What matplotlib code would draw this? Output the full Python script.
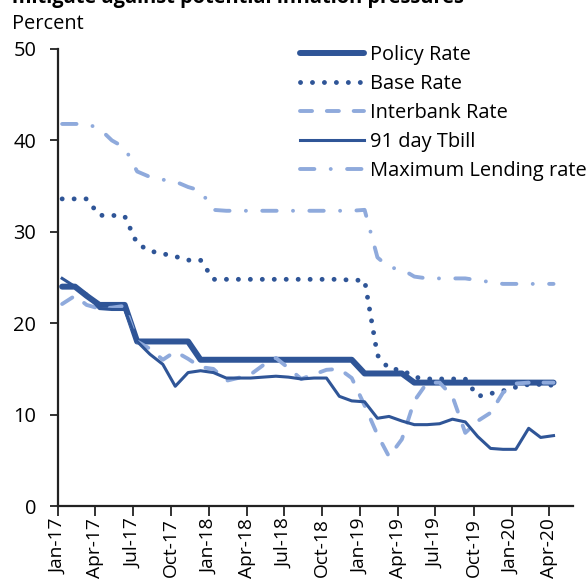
"""
Policy, base, interbank, T-bill and maximum lending rates, Jan-17 to Apr-20
"""
import matplotlib
matplotlib.use("Agg")
import matplotlib.pyplot as plt
import matplotlib.dates as mdates
import pandas as pd

plt.rcParams['font.family'] = ['Open Sans', 'DejaVu Sans']

# Monthly observations, Jan-17 .. Apr-20
months = pd.date_range("2017-01-01", periods=40, freq="MS")

policy_rate = [24.0, 24.0, 23.0, 22.0, 22.0, 22.0, 18.0, 18.0, 18.0, 18.0, 18.0, 16.0,
               16.0, 16.0, 16.0, 16.0, 16.0, 16.0, 16.0, 16.0, 16.0, 16.0, 16.0, 16.0,
               14.5, 14.5, 14.5, 14.5, 13.5, 13.5, 13.5, 13.5, 13.5, 13.5, 13.5, 13.5,
               13.5, 13.5, 13.5, 13.5]
base_rate = [33.6, 33.6, 33.6, 31.8, 31.8, 31.7, 28.7, 27.9, 27.6, 27.3, 26.9, 26.9,
             24.8, 24.8, 24.8, 24.8, 24.8, 24.8, 24.8, 24.8, 24.8, 24.8, 24.8, 24.7,
             24.7, 16.5, 15.0, 14.9, 14.1, 13.9, 13.9, 13.9, 13.9, 12.0, 12.3, 12.6,
             13.0, 13.3, 13.3, 13.2]
interbank_rate = [22.1, 23.0, 22.0, 21.6, 21.7, 21.9, 18.0, 17.2, 16.0, 16.9, 16.1, 15.2,
                  15.0, 13.7, 14.0, 14.4, 15.4, 16.2, 15.1, 13.9, 14.4, 14.9, 15.0, 14.0,
                  11.0, 7.8, 5.4, 7.3, 11.5, 13.5, 13.5, 12.0, 8.0, 9.3, 10.2, 12.4,
                  13.4, 13.5, 13.5, 13.5]
tbill_91 = [24.9, 24.0, 23.2, 21.6, 21.5, 21.5, 18.0, 16.6, 15.5, 13.1, 14.6, 14.8,
            14.6, 14.0, 14.0, 14.0, 14.1, 14.2, 14.1, 13.9, 14.0, 14.0, 12.0, 11.5,
            11.4, 9.6, 9.8, 9.3, 8.9, 8.9, 9.0, 9.5, 9.2, 7.6, 6.3, 6.2,
            6.2, 8.5, 7.5, 7.7]
max_lending = [41.8, 41.8, 41.8, 41.3, 40.0, 39.2, 36.6, 36.0, 35.7, 35.5, 34.9, 34.5,
               32.4, 32.3, 32.3, 32.3, 32.3, 32.3, 32.3, 32.3, 32.3, 32.3, 32.3, 32.3,
               32.4, 27.2, 26.1, 25.9, 25.1, 24.9, 24.9, 24.9, 24.9, 24.7, 24.5, 24.3,
               24.3, 24.3, 24.3, 24.3]

dark = '#2F5597'
light = '#8FAADC'
W, H = 587, 580
FS = 14.4

fig = plt.figure(figsize=(W / 100, H / 100), dpi=100)
ax = fig.add_axes([58 / W, 1 - 506 / H, (573 - 58) / W, (506 - 49) / H])

# points sit a little after the month tick, as in the original
x = months + pd.Timedelta(days=10)

ax.plot(x, policy_rate, color=dark, lw=4.3, solid_capstyle='round',
        solid_joinstyle='round', label='Policy Rate')
ax.plot(x, base_rate, color=dark, lw=3.5, linestyle=(0, (0.01, 2.45)),
        dash_capstyle='round', label='Base Rate')
ax.plot(x, interbank_rate, color=light, lw=2.8, linestyle=(0, (3.1, 3.8)),
        dash_capstyle='round', label='Interbank Rate')
ax.plot(x, tbill_91, color=dark, lw=2.2, solid_joinstyle='round',
        label='91 day Tbill')
ax.plot(x, max_lending, color=light, lw=2.8, linestyle=(0, (3.7, 4.2, 0.01, 4.2)),
        dash_capstyle='round', label='Maximum Lending rate')

ax.set_ylim(0, 50)
ax.set_yticks(range(0, 51, 10))
ax.set_xlim(pd.Timestamp("2017-01-01"), pd.Timestamp("2020-05-28"))
ax.xaxis.set_major_locator(mdates.MonthLocator(bymonth=[1, 4, 7, 10]))
ax.xaxis.set_major_formatter(mdates.DateFormatter('%b-%y'))

for side in ('top', 'right'):
    ax.spines[side].set_visible(False)
for side in ('left', 'bottom'):
    ax.spines[side].set_linewidth(1.6)
    ax.spines[side].set_color('#222222')

ax.tick_params(axis='y', length=5.5, width=1.3, color='#222222', pad=10, labelsize=FS)
ax.tick_params(axis='x', length=7, width=1.3, color='#222222', pad=2, labelsize=13.8,
               labelrotation=90)

leg = ax.legend(loc='upper left', bbox_to_anchor=(300 / W, 1 - 45.2 / H),
                bbox_transform=fig.transFigure, frameon=False, fontsize=FS,
                handlelength=3.2, handletextpad=0.3, labelspacing=0.45,
                borderpad=0, borderaxespad=0)

fig.text(12 / W, 1 - 29.3 / H, 'Percent', fontsize=FS, va='baseline')
fig.text(12 / W, 1 - 3.5 / H, 'mitigate against potential inflation pressures',
         fontsize=FS, fontweight='bold', va='baseline')

fig.savefig('out.png', dpi=100)
plt.close(fig)
